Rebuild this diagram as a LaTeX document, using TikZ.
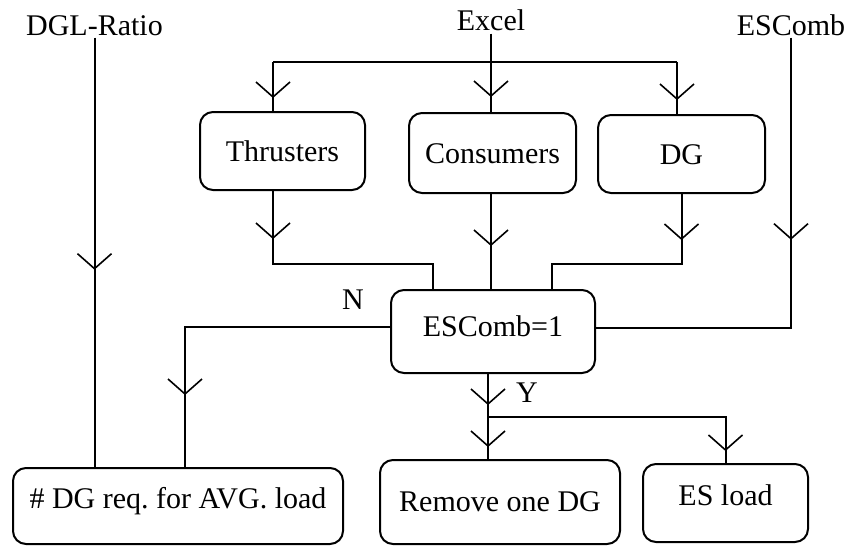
\documentclass[tikz,border=0pt]{standalone}
\usepackage{fontspec}
\setmainfont{Liberation Serif}
\usetikzlibrary{decorations.markings}

\begin{document}
\begin{tikzpicture}[x=0.5pt,y=-0.5pt,
  font=\fontsize{15pt}{18pt}\selectfont,
  box/.style={draw,line width=1pt,rounded corners=6.5pt,text height=11pt,text depth=1pt},
  conn/.style={line width=1pt},
  vmark/.style={postaction={decorate},decoration={markings,
      mark=at position #1 with {\draw[line width=0.8pt] (-7.5pt,8.5pt) -- (0pt,0pt) -- (-7.5pt,-8.5pt);}}},
  lbl/.style={inner sep=1pt,anchor=base}]
  \useasboundingbox (0,0) rectangle (853,546);

  % inputs
  \node[lbl] (dgl) at (94.5,35) {DGL-Ratio};
  \node[lbl] (excel) at (491,31) {Excel};
  \node[lbl] (escomb) at (791,35) {ESComb};

  % boxes
  \node[box,minimum width=82.5pt,minimum height=39pt] (thr) at (282.5,151) {Thrusters};
  \node[box,minimum width=83.5pt,minimum height=40pt] (con) at (492.5,153) {Consumers};
  \node[box,minimum width=83.5pt,minimum height=39pt] (dg) at (681.5,154) {DG};
  \node[box,minimum width=102pt,minimum height=41.5pt,text depth=6.5pt] (esc) at (493,331.5) {ESComb=1};
  \node[box,minimum width=165pt,minimum height=38pt,text depth=9pt] (avg) at (178,506) {\# DG req.\ for AVG. load};
  \node[box,minimum width=120pt,minimum height=42pt,text depth=2pt] (rem) at (500,502) {Remove one DG};
  \node[box,minimum width=82.5pt,minimum height=39pt,text depth=9pt] (esl) at (725.5,503) {ES load};

  % branch points
  \coordinate (bl) at (273,62);
  \coordinate (br) at (677,62);
  \coordinate (jl) at (433,264);
  \coordinate (jr) at (552,264);
  \coordinate (nc) at (185,327);
  \coordinate (ybr) at (488,417);

  % Excel to the three blocks
  \draw[conn] (bl) -- (br);
  \draw[conn,vmark=-7pt] (bl) -- (bl |- thr.north);
  \draw[conn,vmark=-8pt] (excel.south) -- (excel.south |- con.north);
  \draw[conn,vmark=-7.5pt] (br) -- (br |- dg.north);

  % blocks into the check
  \draw[conn,vmark=23.5pt] (thr.south -| bl) |- (jl) -- (jl |- esc.north);
  \draw[conn,vmark=25.5pt] (con.south -| excel.south) -- (excel.south |- esc.north);
  \draw[conn,vmark=22.5pt] (dg.south) |- (jr) -- (jr |- esc.north);
  \draw[conn,vmark=100.5pt] (escomb.south) |- ([yshift=1.75pt]esc.east);

  % N branch
  \draw[conn,vmark=-36.5pt] ([yshift=2.25pt]esc.west) -- (nc) -- (nc |- avg.north);
  \node[lbl] (nlab) at (353,309) {N};
  \draw[conn,vmark=115.5pt] (dgl.south) -- (dgl.south |- avg.north);

  % Y branch
  \draw[conn,vmark=15pt] (esc.south -| ybr) -- (ybr);
  \node[lbl] (ylab) at (527,402) {Y};
  \draw[conn,vmark=-6.5pt] (ybr) -- (ybr |- rem.north);
  \draw[conn,vmark=-6.5pt] (ybr) -| (esl.north);
\end{tikzpicture}
\end{document}
